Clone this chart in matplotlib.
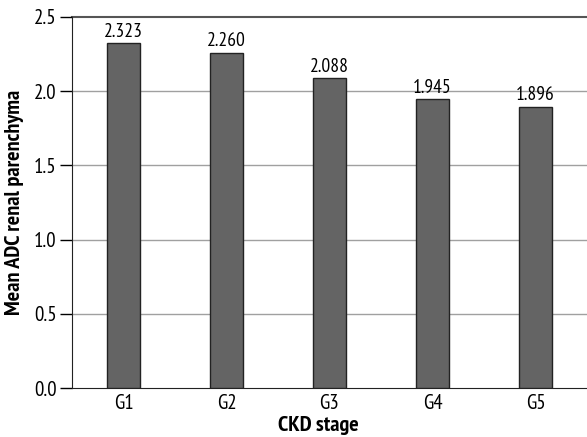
import numpy as np
import matplotlib.pyplot as plt

stages = ['G1', 'G2', 'G3', 'G4', 'G5']
mean_adc = [2.323, 2.260, 2.088, 1.945, 1.896]
value_labels = ['2.323', '2.260', '2.088', '1.945', '1.896']

plt.rcParams['font.family'] = ['PT Sans Narrow', 'DejaVu Sans']

fig = plt.figure(figsize=(5.87, 4.37), dpi=100)
ax = fig.add_axes([72 / 587, 1 - 388 / 437, 1 - 72 / 587, (388 - 17) / 437])

x = np.arange(len(stages))
ax.bar(x, mean_adc, width=0.32, color='#646464', edgecolor='#222222', linewidth=1.0, zorder=3)

for xi, v, lab in zip(x, mean_adc, value_labels):
    ax.text(xi, v + 0.015, lab, ha='center', va='bottom', fontsize=14, zorder=4)

ax.set_xlim(-0.5, 4.5)
ax.set_ylim(0, 2.5)
ax.set_yticks([0.0, 0.5, 1.0, 1.5, 2.0, 2.5])
ax.set_yticklabels(['0.0', '0.5', '1.0', '1.5', '2.0', '2.5'])
ax.set_xticks(x)
ax.set_xticklabels(stages)

# light gridlines, darker line along the top
for y in [0.5, 1.0, 1.5, 2.0]:
    ax.axhline(y, color='#a0a0a0', linewidth=1.0, zorder=1)
ax.axhline(2.5, color='#555555', linewidth=1.5, zorder=1, clip_on=False)

for s in ['top', 'right']:
    ax.spines[s].set_visible(False)
ax.spines['left'].set_color('#222222')
ax.spines['bottom'].set_color('#222222')

ax.tick_params(axis='y', direction='out', length=9, width=1, labelsize=15, pad=2)
ax.tick_params(axis='x', length=0, labelsize=15, pad=4)

ax.set_xlabel('CKD stage', fontsize=16, fontweight='bold')
ax.xaxis.set_label_coords(0.478, -0.075, transform=ax.transAxes)
ax.set_ylabel('Mean ADC renal parenchyma', fontsize=16, fontweight='bold', labelpad=7)

fig.savefig('out.png', dpi=100)
